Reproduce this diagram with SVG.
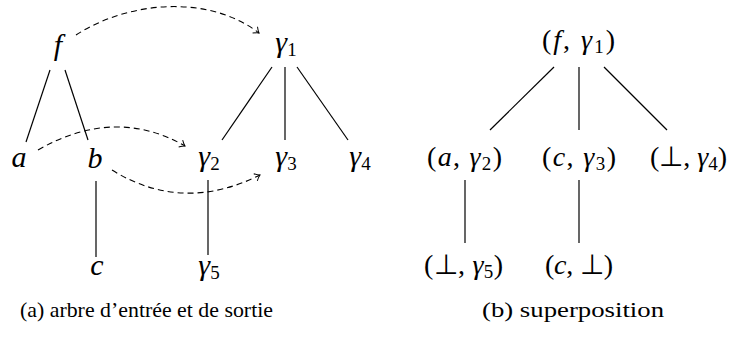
<svg xmlns="http://www.w3.org/2000/svg" width="734" height="338" viewBox="0 0 734 338">
<defs>
<marker id="arr" viewBox="-6 -5 8 10" markerWidth="8" markerHeight="10" refX="0" refY="0" orient="auto" markerUnits="userSpaceOnUse">
<path d="M-5,-4 Q-2,-1 0,0 Q-2,1 -5,4" fill="none" stroke="#000" stroke-width="1"/>
</marker>
</defs>
<style>
.m{font-family:"Liberation Serif","Times New Roman",serif;font-style:italic;font-size:30px;fill:#000}
.r{font-family:"Liberation Serif","Times New Roman",serif;font-size:28px;fill:#000}
.i{font-style:italic}
.s{font-size:19px;font-style:normal}
.cap{font-family:"Liberation Serif","Times New Roman",serif;font-size:22px;fill:#000}
.e{stroke:#000;stroke-width:1.2;fill:none}
.d{stroke:#000;stroke-width:1.1;fill:none;stroke-dasharray:6 4;marker-end:url(#arr)}
</style>
<g id="edges">
<line class="e" x1="50" y1="70" x2="26" y2="142"/>
<line class="e" x1="65" y1="70" x2="88" y2="140"/>
<line class="e" x1="96" y1="181" x2="96" y2="257"/>
<line class="e" x1="272" y1="67" x2="222" y2="140"/>
<line class="e" x1="285" y1="67" x2="285" y2="140"/>
<line class="e" x1="297" y1="67" x2="348" y2="140"/>
<line class="e" x1="208" y1="180" x2="208" y2="255"/>
<line class="e" x1="554" y1="67" x2="490" y2="130"/>
<line class="e" x1="579" y1="67" x2="579" y2="130"/>
<line class="e" x1="604" y1="67" x2="667" y2="130"/>
<line class="e" x1="465" y1="180" x2="465" y2="243"/>
<line class="e" x1="579" y1="180" x2="579" y2="243"/>
<path class="d" d="M76,35 C130,0 210,-5 259,33"/>
<path class="d" d="M38,150 C90,120 140,120 185,146"/>
<path class="d" d="M112,170 C160,200 210,200 260,175"/>
</g>
<g id="f"><text class="m" x="58" y="55" text-anchor="middle">f</text></g>
<g id="a"><text class="m" x="19" y="167" text-anchor="middle">a</text></g>
<g id="b"><text class="m" x="95" y="168" text-anchor="middle">b</text></g>
<g id="c"><text class="m" x="97" y="275" text-anchor="middle">c</text></g>
<g id="g1"><text class="m" x="286" y="52" text-anchor="middle">γ<tspan class="s" dy="4">1</tspan></text></g>
<g id="g2"><text class="m" x="209" y="166" text-anchor="middle">γ<tspan class="s" dy="4">2</tspan></text></g>
<g id="g3"><text class="m" x="286" y="166" text-anchor="middle">γ<tspan class="s" dy="4">3</tspan></text></g>
<g id="g4"><text class="m" x="360" y="166" text-anchor="middle">γ<tspan class="s" dy="4">4</tspan></text></g>
<g id="g5"><text class="m" x="209" y="275" text-anchor="middle">γ<tspan class="s" dy="4">5</tspan></text></g>
<g id="fg1"><text class="r" x="542" y="49" textLength="73" lengthAdjust="spacing">(<tspan class="i">f</tspan>, <tspan class="i">γ</tspan><tspan class="s" dy="4">1</tspan><tspan dy="-4">)</tspan></text></g>
<g id="ag2"><text class="r" x="427" y="166" textLength="75" lengthAdjust="spacing">(<tspan class="i">a</tspan>, <tspan class="i">γ</tspan><tspan class="s" dy="4">2</tspan><tspan dy="-4">)</tspan></text></g>
<g id="cg3"><text class="r" x="542" y="166" textLength="74" lengthAdjust="spacing">(<tspan class="i">c</tspan>, <tspan class="i">γ</tspan><tspan class="s" dy="4">3</tspan><tspan dy="-4">)</tspan></text></g>
<g id="bg4"><text class="r" x="650" y="166" textLength="77" lengthAdjust="spacing">(⊥, <tspan class="i">γ</tspan><tspan class="s" dy="4">4</tspan><tspan dy="-4">)</tspan></text></g>
<g id="bg5"><text class="r" x="424" y="274" textLength="79" lengthAdjust="spacing">(⊥, <tspan class="i">γ</tspan><tspan class="s" dy="4">5</tspan><tspan dy="-4">)</tspan></text></g>
<g id="cb"><text class="r" x="545" y="274" textLength="68" lengthAdjust="spacing">(<tspan class="i">c</tspan>, ⊥)</text></g>
<text class="cap" x="20" y="317" textLength="253" lengthAdjust="spacingAndGlyphs">(a) arbre d’entrée et de sortie</text>
<text class="cap" x="482" y="317" textLength="182" lengthAdjust="spacingAndGlyphs">(b) superposition</text>
</svg>
